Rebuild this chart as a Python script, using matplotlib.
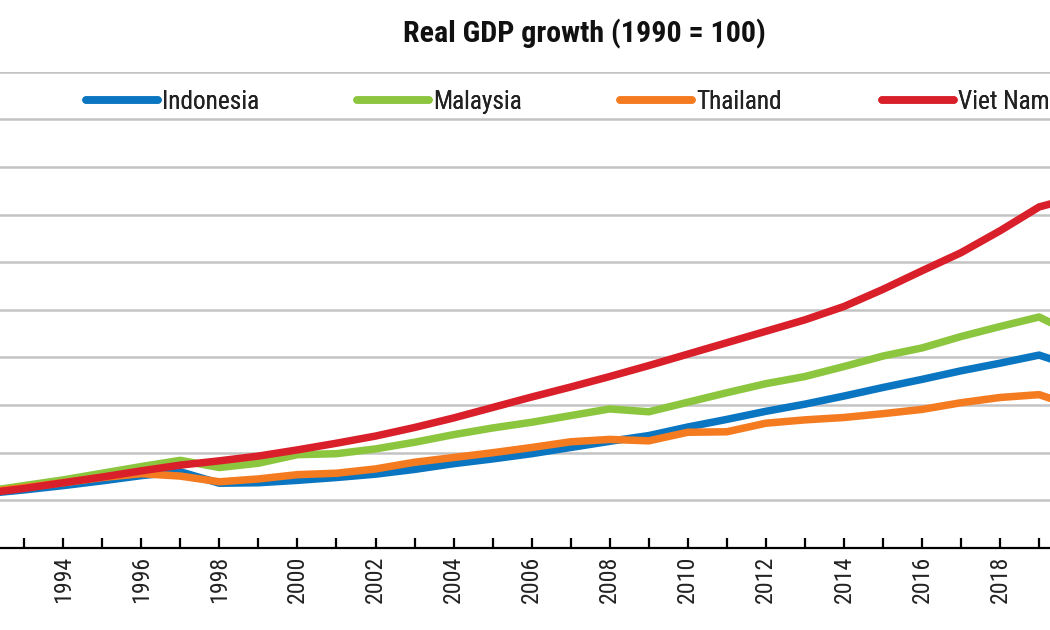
import matplotlib
matplotlib.use("Agg")
import matplotlib.pyplot as plt
from matplotlib.ticker import MultipleLocator
from matplotlib import font_manager

years = list(range(1990, 2021))
indonesia = [100, 107, 114, 122, 131, 141, 152, 160, 136, 137, 142, 148, 155, 165, 177, 187,
             198, 211, 224, 236, 254, 270, 287, 302, 319, 337, 354, 372, 388, 405, 378]
malaysia = [100, 109.5, 119, 131, 143, 157, 171, 184, 169, 178, 196, 198, 208, 222, 238, 252,
            264, 278, 292, 286, 306, 326, 345, 360, 381, 403, 420, 444, 465, 485, 445]
thailand = [100, 108.6, 117, 127, 137, 148, 156, 151, 139, 145, 154, 157, 166, 180, 190, 200,
            211, 223, 228, 225, 243, 244, 262, 269, 274, 282, 291, 305, 316, 322, 295]
vietnam = [100, 106, 115, 125, 137, 149, 162, 174, 183, 193, 206, 220, 235, 253, 273, 295,
           317, 338, 360, 383, 407, 431, 455, 479, 507, 543, 582, 620, 666, 716, 738]

names = ["Indonesia", "Malaysia", "Thailand", "Viet Nam"]
colors = ["#0a75c0", "#8cc63f", "#f47b20", "#d9202a"]
series = [indonesia, malaysia, thailand, vietnam]
title = "Real GDP growth (1990 = 100)"

# pick a narrow font if one is installed
available = {f.name for f in font_manager.fontManager.ttflist}
cond = {f.name for f in font_manager.fontManager.ttflist
        if str(f.stretch) in ('condensed', 'semi-condensed', 'extra-condensed', '75', '87')}
family = None
stretch = 'normal'
for cand in ['Liberation Sans Narrow', 'Arial Narrow', 'Roboto Condensed',
             'Open Sans Condensed', 'DejaVu Sans Condensed']:
    if cand in available:
        family = cand
        break
if family is None:
    for cand in ['Liberation Sans', 'Roboto', 'Open Sans', 'DejaVu Sans']:
        if cand in cond:
            family = cand
            stretch = 'condensed'
            break
if family is None:
    family = 'Liberation Sans'
plt.rcParams['font.family'] = [family, 'DejaVu Sans']
plt.rcParams['font.stretch'] = stretch

W, H = 1050, 630
fig = plt.figure(figsize=(W / 100, H / 100), dpi=100)
renderer = fig.canvas.get_renderer()


def fit_size(text, target_px, weight='normal', base=20.0):
    t = fig.text(0, 0, text, fontsize=base, fontweight=weight)
    w = t.get_window_extent(renderer).width
    t.remove()
    return base * target_px / w


fs_title = fit_size(title, 362, 'bold')
fs_leg = fit_size("Indonesia", 97)
fs_tick = fit_size("1994", 47)

ax = fig.add_axes([0, 1 - 548 / H, 1, (548 - 71.7) / H])

lines = []
for name, vals, col in zip(names, series, colors):
    ln, = ax.plot(years, vals, color=col, lw=5.4, label=name,
                  solid_capstyle='round', solid_joinstyle='round')
    lines.append(ln)

ax.set_xlim(1992.38, 2019.28)
ax.set_ylim(0, 1000)
ax.yaxis.set_major_locator(MultipleLocator(100))
ax.grid(axis='y', color='#c4c4c4', lw=1.8)
ax.set_axisbelow(True)
ax.set_yticklabels([])
ax.tick_params(axis='y', length=0)

ax.set_xticks(list(range(1994, 2020, 2)))
ax.set_xticks(list(range(1993, 2020, 2)), minor=True)
ax.set_xticklabels([str(y) for y in range(1994, 2020, 2)], rotation=90,
                   fontsize=fs_tick, color='#222222')
ax.tick_params(axis='x', which='both', direction='in', length=7, width=1.6,
               color='black', pad=5.5)

for s in ['top', 'right', 'left']:
    ax.spines[s].set_visible(False)
ax.spines['bottom'].set_color('black')
ax.spines['bottom'].set_linewidth(1.6)

fig.text(584 / W, 1 - 34 / H, title, ha='center', va='center',
         fontsize=fs_title, fontweight='bold', color='#111111')

# legend entries placed at the reference positions
handle_x = [86, 357, 620, 882]
fs_px = fs_leg * 100 / 72
for ln, x0 in zip(lines, handle_x):
    leg = fig.legend(handles=[ln], labels=[ln.get_label()], loc='center left',
                     bbox_to_anchor=(x0 / W, 1 - 101.7 / H), frameon=False,
                     fontsize=fs_leg, borderpad=0, borderaxespad=0,
                     handlelength=72 / fs_px, handletextpad=4 / fs_px)
    for t in leg.get_texts():
        t.set_color('#222222')
    fig.add_artist(leg)

fig.savefig("out.png", dpi=100)
